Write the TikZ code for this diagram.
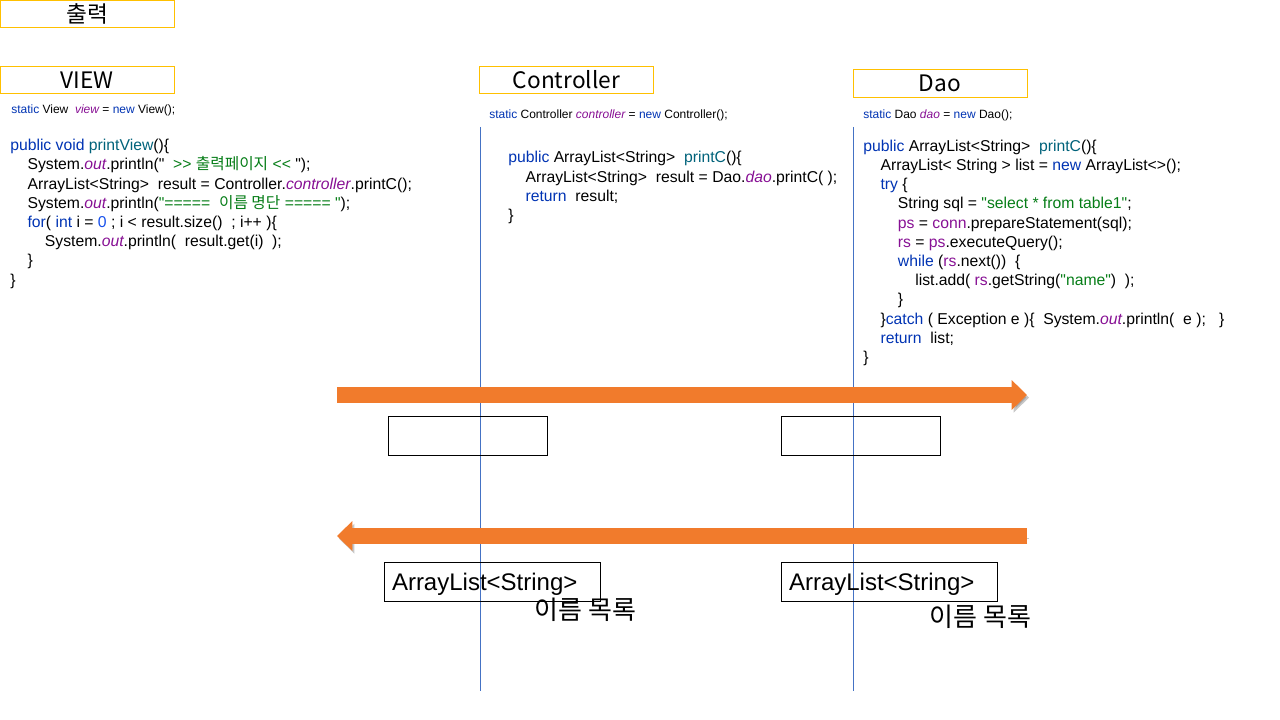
\documentclass[tikz,border=0pt]{standalone}
\usepackage{fontspec}
\usepackage{tikz}
\usetikzlibrary{arrows.meta}
\newfontfamily\codefont{Liberation Sans}
\newfontfamily\kofont{Noto Sans CJK KR}
\definecolor{headgold}{HTML}{FFC000}
\definecolor{lineblue}{HTML}{4472C4}
\definecolor{flowor}{HTML}{F17B2C}
\definecolor{kwblue}{HTML}{0033B3}
\definecolor{mthteal}{HTML}{00627A}
\definecolor{fldpurple}{HTML}{871094}
\definecolor{strgreen}{HTML}{067D17}
\definecolor{numblue}{HTML}{1750EB}
\newcommand\kw[1]{\textcolor{kwblue}{#1}}
\newcommand\mth[1]{\textcolor{mthteal}{#1}}
\newcommand\fld[1]{\textcolor{fldpurple}{#1}}
\newcommand\sfld[1]{\textcolor{fldpurple}{\itshape #1}}
\newcommand\jstr[1]{\textcolor{strgreen}{#1}}
\newcommand\jnum[1]{\textcolor{numblue}{#1}}
\newcommand\ko[1]{{\kofont #1}}
\newcommand\ind{\hspace*{13pt}}

\begin{document}
\begin{tikzpicture}[x=0.75pt,y=-0.75pt,
  head/.style={draw=headgold, line width=0.75pt, minimum width=130.5pt, minimum height=20.5pt, inner sep=0pt, font=\kofont\fontsize{17}{20}\selectfont},
  decl/.style={anchor=base west, inner sep=0pt, font=\codefont\fontsize{9}{11}\selectfont},
  code/.style={anchor=base west, align=left, inner sep=0pt, font=\codefont\fontsize{11.8}{14.4}\selectfont},
  lifeline/.style={draw=lineblue, line width=0.75pt},
  flow/.style={draw=flowor, line width=12pt, -{Triangle[width=21.75pt,length=11.5pt]},
    preaction={draw=black!55, opacity=.4, transform canvas={shift={(1.5pt,-2pt)}}}},
  callbox/.style={draw, line width=0.75pt, minimum width=119.25pt, minimum height=29.25pt},
  retbox/.style={draw, line width=0.75pt, minimum height=29.25pt, text width=150pt, text height=17.5pt, text depth=3.7pt, inner xsep=6pt, inner ysep=0pt, align=left, font=\codefont\fontsize{18}{21}\selectfont},
  names/.style={inner sep=0pt, font=\kofont\fontsize{19.5}{22}\selectfont}]
\useasboundingbox (0,0) rectangle (1280,720);

% headers
\node[head] (title) at (87,14) {출력};
\node[head] (view) at (87,80) {VIEW};
\node[head] (ctrl) at (566.5,80) {Controller};
\node[head] (dao) at (940,83.5) {Dao};

% lifelines
\coordinate (ctrlTop) at (480,127);
\coordinate (ctrlBot) at (480,691);
\coordinate (daoTop) at (853,127);
\coordinate (daoBot) at (853,691);
\draw[lifeline] (ctrlTop) -- (ctrlBot);
\draw[lifeline] (daoTop) -- (daoBot);

% VIEW code (anchored at the baseline of its last line)
\node[decl] (viewDecl) at (11,114) {\kw{static} View~~\sfld{view} = \kw{new} View();};
\node[code] (viewCode) at (10,285) {\kw{public void} \mth{printView}()\{\\
\ind System.\sfld{out}.println("\jstr{~~>> \ko{출력페이지} <<} ");\\
\ind ArrayList<String>~ result = Controller.\sfld{controller}.printC();\\
\ind System.\sfld{out}.println(\jstr{"=====~~\ko{이름 명단} ===== "});\\
\ind \kw{for}( \kw{int} i = \jnum{0} ; i < result.size()~ ; i++ )\{\\
\ind\ind System.\sfld{out}.println(~ result.get(i)~ );\\
\ind \}\\
\}};

% Controller code
\node[decl] (ctrlDecl) at (489,118.5) {\kw{static} Controller \sfld{controller} = \kw{new} Controller();};
\node[code] (ctrlCode) at (508,220.5) {\kw{public} ArrayList<String>~ \mth{printC}()\{\\
\ind ArrayList<String>~ result = Dao.\sfld{dao}.printC( );\\
\ind \kw{return}~ result;\\
\}};

% Dao code
\node[decl] (daoDecl) at (863,118.5) {\kw{static} Dao \sfld{dao} = \kw{new} Dao();};
\node[code] (daoCode) at (863,362.5) {\kw{public} ArrayList<String>~ \mth{printC}()\{\\
\ind ArrayList< String > list = \kw{new} ArrayList<>();\\
\ind \kw{try} \{\\
\ind\ind String sql = \jstr{"select * from table1"};\\
\ind\ind \fld{ps} = \fld{conn}.prepareStatement(sql);\\
\ind\ind \fld{rs} = \fld{ps}.executeQuery();\\
\ind\ind \kw{while} (\fld{rs}.next())~ \{\\
\ind\ind\ind list.add( \fld{rs}.getString(\jstr{"name"})~ );\\
\ind\ind \}\\
\ind \}\kw{catch} ( Exception e )\{~ System.\sfld{out}.println(~ e );~~ \}\\
\ind \kw{return}~ list;\\
\}};

% call and return
\coordinate (goL) at (337,395);
\coordinate (goR) at (1027,395);
\coordinate (backR) at (1027,536);
\coordinate (backL) at (337,536);
\draw[flow] (goL) -- (goR);
\draw[flow] (backR) -- (backL);

\node[callbox] (callC) at (467.5,435.5) {};
\node[callbox] (callD) at (860.5,435.5) {};
\node[retbox] (retC) at (492,581.5) {ArrayList<String>};
\node[retbox] (retD) at (889,581.5) {ArrayList<String>};
\node[names] (namesC) at (585.5,610) {이름 목록};
\node[names] (namesD) at (980.5,617) {이름 목록};
\end{tikzpicture}
\end{document}
